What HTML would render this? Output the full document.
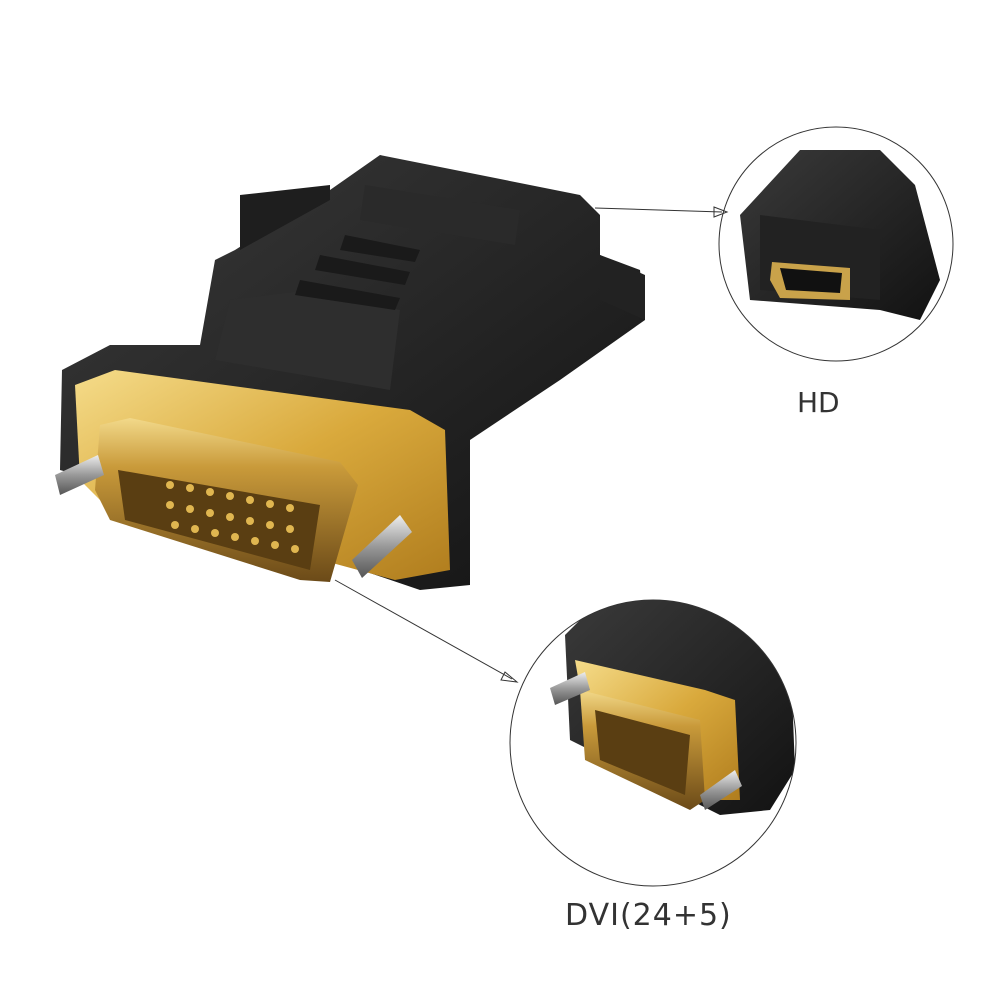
<!DOCTYPE html>
<html><head><meta charset="utf-8"><style>
html,body{margin:0;padding:0;background:#fff;width:1000px;height:1000px;overflow:hidden}
</style></head><body>
<svg width="1000" height="1000" viewBox="0 0 1000 1000" xmlns="http://www.w3.org/2000/svg">
<defs>
<linearGradient id="gold" x1="0" y1="0" x2="1" y2="1">
<stop offset="0" stop-color="#f5dc8a"/><stop offset="0.5" stop-color="#d9a93c"/><stop offset="1" stop-color="#b07d1e"/></linearGradient>
<linearGradient id="plug" x1="0" y1="0" x2="0" y2="1">
<stop offset="0" stop-color="#f2d98a"/><stop offset="0.3" stop-color="#c99a3a"/><stop offset="1" stop-color="#6b4a18"/></linearGradient>
<linearGradient id="blk" x1="0" y1="0" x2="1" y2="1">
<stop offset="0" stop-color="#3a3a3a"/><stop offset="1" stop-color="#121212"/></linearGradient>
<linearGradient id="screw" x1="0" y1="0" x2="0" y2="1">
<stop offset="0" stop-color="#eee"/><stop offset="0.5" stop-color="#999"/><stop offset="1" stop-color="#555"/></linearGradient>
<clipPath id="c1"><circle cx="836" cy="244" r="117"/></clipPath>
<clipPath id="c2"><circle cx="653" cy="743" r="143"/></clipPath>
</defs>
<rect width="1000" height="1000" fill="#fff"/>
<!-- main body -->
<polygon points="235,250 330,190 380,155 580,195 600,215 600,255 640,270 645,320 560,380 470,440 470,585 420,590 95,480 60,470 62,370 110,345 200,345 215,260" fill="url(#blk)"/>
<polygon points="365,185 520,210 515,245 360,220" fill="#2a2a2a"/>
<polygon points="230,300 310,290 400,310 390,390 215,360" fill="#2e2e2e"/>
<polygon points="345,235 420,250 415,262 340,250" fill="#1a1a1a"/>
<polygon points="320,255 410,272 405,285 315,270" fill="#1a1a1a"/>
<polygon points="300,280 400,298 395,310 295,295" fill="#1a1a1a"/>
<polygon points="600,255 645,275 645,320 600,300" fill="#222"/>
<polygon points="240,195 330,185 330,200 240,250" fill="#1e1e1e"/>
<!-- gold plate -->
<polygon points="75,385 115,370 410,410 445,430 450,570 395,580 100,500 80,480" fill="url(#gold)"/>
<!-- plug -->
<polygon points="100,425 130,418 340,462 358,485 330,582 300,580 110,520 95,490" fill="url(#plug)"/>
<polygon points="118,470 320,505 310,570 125,520" fill="#5a3e12"/>
<g fill="#e0b650">
<circle cx="170" cy="485" r="4"/><circle cx="190" cy="488" r="4"/><circle cx="210" cy="492" r="4"/><circle cx="230" cy="496" r="4"/><circle cx="250" cy="500" r="4"/><circle cx="270" cy="504" r="4"/><circle cx="290" cy="508" r="4"/>
<circle cx="170" cy="505" r="4"/><circle cx="190" cy="509" r="4"/><circle cx="210" cy="513" r="4"/><circle cx="230" cy="517" r="4"/><circle cx="250" cy="521" r="4"/><circle cx="270" cy="525" r="4"/><circle cx="290" cy="529" r="4"/>
<circle cx="175" cy="525" r="4"/><circle cx="195" cy="529" r="4"/><circle cx="215" cy="533" r="4"/><circle cx="235" cy="537" r="4"/><circle cx="255" cy="541" r="4"/><circle cx="275" cy="545" r="4"/><circle cx="295" cy="549" r="4"/>
</g>
<!-- screws -->
<polygon points="55,475 98,455 104,475 60,495" fill="url(#screw)"/>
<polygon points="352,560 400,515 412,532 362,578" fill="url(#screw)"/>
<!-- HD circle -->
<circle cx="836" cy="244" r="117" fill="#fff"/>
<g clip-path="url(#c1)">
<path d="M740,215 L800,150 L880,150 L915,185 L940,280 L920,320 L880,310 L750,300 Z" fill="url(#blk)"/>
<polygon points="760,215 880,230 880,300 760,290" fill="#222"/>
<polygon points="772,262 850,268 850,300 780,298 770,280" fill="#c9a24a"/>
<polygon points="780,268 842,273 840,293 786,290" fill="#111"/>
</g>
<circle cx="836" cy="244" r="117" fill="none" stroke="#333" stroke-width="1"/>
<!-- DVI circle -->
<circle cx="653" cy="743" r="143" fill="#fff"/>
<g clip-path="url(#c2)">
<path d="M565,635 L600,600 L720,600 L790,640 L795,770 L770,810 L720,815 L570,740 Z" fill="url(#blk)"/>
<polygon points="575,660 705,690 735,700 740,800 715,800 590,745" fill="url(#gold)"/>
<polygon points="580,690 700,720 705,800 690,810 585,760" fill="url(#plug)"/>
<polygon points="595,710 690,735 685,795 600,760" fill="#5a3e12"/>
<polygon points="550,688 585,672 590,690 555,705" fill="url(#screw)"/>
<polygon points="700,795 735,770 742,786 705,810" fill="url(#screw)"/>
</g>
<circle cx="653" cy="743" r="143" fill="none" stroke="#333" stroke-width="1"/>
<!-- arrows -->
<line x1="595" y1="208" x2="722" y2="212" stroke="#333" stroke-width="1"/>
<polygon points="727,212 714,207 714,217" fill="none" stroke="#333"/>
<line x1="335" y1="580" x2="512" y2="679" stroke="#333" stroke-width="1"/>
<polygon points="517,682 505,672 501,680" fill="none" stroke="#333"/>
<text x="797" y="412" font-family="Liberation Sans Narrow, DejaVu Sans, sans-serif" font-size="28" fill="#333">HD</text>
<text x="565" y="925" font-family="Liberation Sans Narrow, DejaVu Sans, sans-serif" font-size="30" fill="#333" letter-spacing="1">DVI(24+5)</text>
</svg>
</body></html>
